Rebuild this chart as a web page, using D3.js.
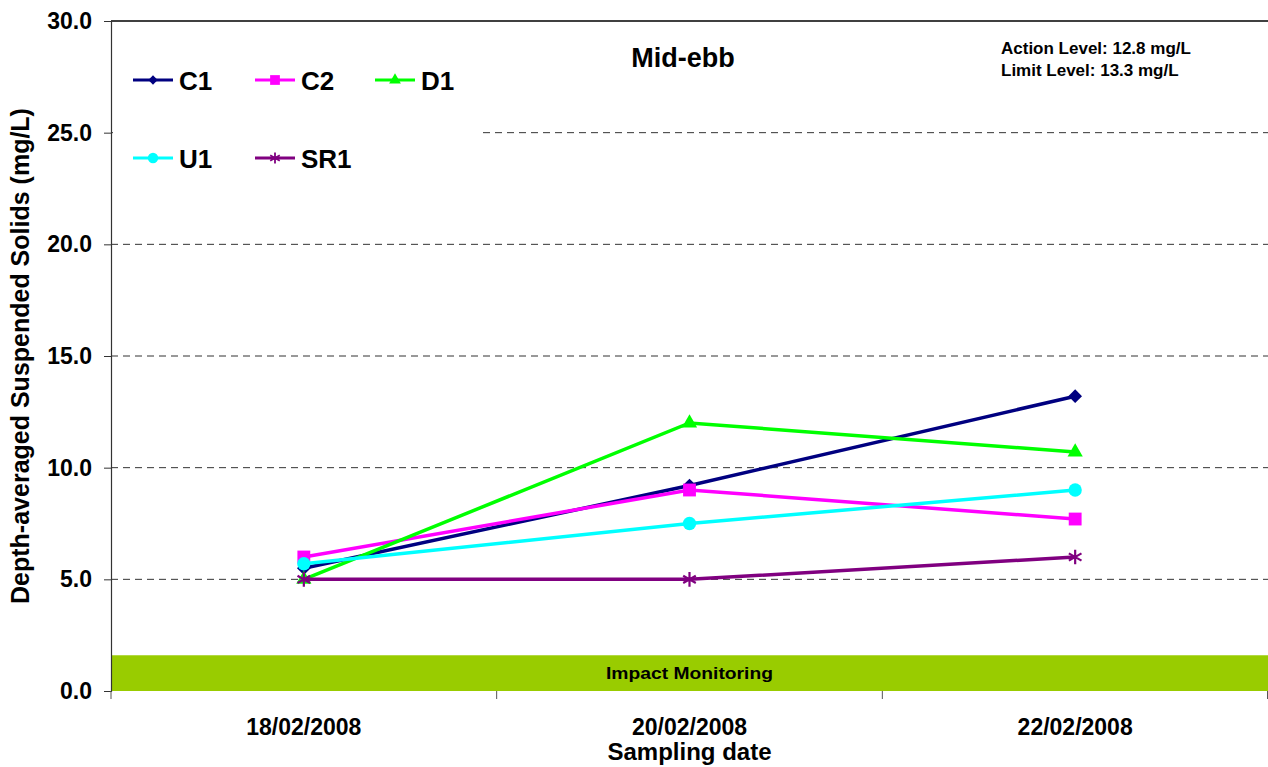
<!DOCTYPE html>
<html>
<head>
<meta charset="utf-8">
<script src="https://cdn.jsdelivr.net/npm/d3@7"></script>
<style>
  body { margin: 0; background: #fff; }
  text { font-family: "Liberation Sans", Arial, sans-serif; font-weight: bold; }
</style>
</head>
<body>
<div id="chart"></div>
<script>
// chart data
const dates = ["18/02/2008", "20/02/2008", "22/02/2008"];
const seriesNames = ["C1", "C2", "D1", "U1", "SR1"];
const c1Values = [5.5, 9.2, 13.2];
const c2Values = [6.0, 9.0, 7.7];
const d1Values = [5.0, 12.0, 10.7];
const u1Values = [5.7, 7.5, 9.0];
const sr1Values = [5.0, 5.0, 6.0];
const yTicks = [0, 5, 10, 15, 20, 25, 30];

const width = 1268, height = 767;
const margin = { top: 21, right: 0, bottom: 76, left: 111 };

const colors = ["#000080", "#ff00ff", "#00ff00", "#00ffff", "#800080"];
const shapes = [d3.symbolDiamond2, d3.symbolSquare, d3.symbolTriangle, d3.symbolCircle, d3.symbolAsterisk];
const shapeSizes = [120, 165, 100, 140, 150];   // in the plot
const legendSizes = [55, 95, 60, 85, 85];       // in the legend

const allValues = [c1Values, c2Values, d1Values, u1Values, sr1Values];
const series = seriesNames.map((name, i) => ({
  name: name,
  color: colors[i],
  shape: shapes[i],
  size: shapeSizes[i],
  legendSize: legendSizes[i],
  values: allValues[i].map((v, j) => ({ date: dates[j], value: v }))
}));

const svg = d3.select("#chart")
  .append("svg")
  .attr("width", width)
  .attr("height", height);

const xScale = d3.scaleBand()
  .domain(dates)
  .range([margin.left, width - margin.right]);

const yScale = d3.scaleLinear()
  .domain([0, 30])
  .range([height - margin.bottom, margin.top]);

// dashed grid lines
svg.append("g")
  .selectAll("line")
  .data(yTicks.filter(t => t > 0 && t < 30))
  .enter()
  .append("line")
    .attr("x1", margin.left)
    .attr("x2", width - margin.right)
    .attr("y1", d => yScale(d))
    .attr("y2", d => yScale(d))
    .attr("stroke", "#333")
    .attr("stroke-width", 1)
    .attr("stroke-dasharray", "7,5");

// top border
svg.append("line")
  .attr("x1", margin.left).attr("x2", width - margin.right)
  .attr("y1", yScale(30)).attr("y2", yScale(30))
  .attr("stroke", "#000").attr("stroke-width", 1.5);

// impact monitoring band
svg.append("rect")
  .attr("x", margin.left)
  .attr("y", yScale(1.6))
  .attr("width", width - margin.right - margin.left)
  .attr("height", yScale(0) - yScale(1.6))
  .attr("fill", "#99cc00");

svg.append("text")
  .attr("x", xScale(dates[1]) + xScale.bandwidth() / 2)
  .attr("y", (yScale(0) + yScale(1.6)) / 2 + 6)
  .attr("text-anchor", "middle")
  .attr("font-size", "17px")
  .attr("textLength", 167)
  .attr("lengthAdjust", "spacingAndGlyphs")
  .text("Impact Monitoring");

// y axis
const yAxis = svg.append("g")
  .attr("transform", `translate(${margin.left},0)`)
  .call(d3.axisLeft(yScale).tickValues(yTicks).tickFormat(d3.format(".1f")).tickSize(7).tickPadding(12));
yAxis.select(".domain").attr("stroke", "#333").attr("stroke-width", 1.2);
yAxis.selectAll(".tick line").attr("stroke", "#333");
yAxis.selectAll("text").attr("font-size", "23px").attr("fill", "#000");

// x axis (ticks at band edges)
const xAxisG = svg.append("g")
  .attr("transform", `translate(0,${yScale(0)})`);
const edges = dates.map(d => xScale(d)).concat([width - margin.right - 0.5]);
xAxisG.selectAll("line")
  .data(edges)
  .enter()
  .append("line")
    .attr("x1", d => d).attr("x2", d => d)
    .attr("y1", 0).attr("y2", 8)
    .attr("stroke", "#555");
xAxisG.selectAll("text")
  .data(dates)
  .enter()
  .append("text")
    .attr("x", d => xScale(d) + xScale.bandwidth() / 2)
    .attr("y", 44)
    .attr("text-anchor", "middle")
    .attr("font-size", "23px")
    .text(d => d);

// axis titles
svg.append("text")
  .attr("x", xScale(dates[1]) + xScale.bandwidth() / 2)
  .attr("y", 760)
  .attr("text-anchor", "middle")
  .attr("font-size", "24px")
  .text("Sampling date");

svg.append("text")
  .attr("transform", `translate(29,${yScale(15)}) rotate(-90)`)
  .attr("text-anchor", "middle")
  .attr("font-size", "25px")
  .text("Depth-averaged Suspended Solids (mg/L)");

// chart title and levels
svg.append("text")
  .attr("x", 683).attr("y", 67)
  .attr("text-anchor", "middle")
  .attr("font-size", "27px")
  .text("Mid-ebb");

svg.append("text")
  .attr("x", 1001).attr("y", 54)
  .attr("font-size", "17px")
  .text("Action Level: 12.8 mg/L");
svg.append("text")
  .attr("x", 1001).attr("y", 76)
  .attr("font-size", "17px")
  .text("Limit Level: 13.3 mg/L");

// lines
const line = d3.line()
  .x(d => xScale(d.date) + xScale.bandwidth() / 2)
  .y(d => yScale(d.value));

series.forEach(s => {
  const g = svg.append("g");
  g.append("path")
    .datum(s.values)
    .attr("d", line)
    .attr("fill", "none")
    .attr("stroke", s.color)
    .attr("stroke-width", 3.5);
  g.selectAll("path.marker")
    .data(s.values)
    .enter()
    .append("path")
      .attr("class", "marker")
      .attr("transform", d => `translate(${xScale(d.date) + xScale.bandwidth() / 2},${yScale(d.value)})`)
      .attr("d", d3.symbol().type(s.shape).size(s.size))
      .attr("fill", s.color)
      .attr("stroke", s.color)
      .attr("stroke-width", s.shape === d3.symbolAsterisk ? 2.2 : 0);
});

// legend
const legendPos = [[133, 80], [255, 80], [375, 80], [133, 158], [255, 158]];
const legend = svg.append("g");
legend.append("rect")
  .attr("x", margin.left + 2).attr("y", 40)
  .attr("width", 370).attr("height", 150)
  .attr("fill", "#fff");
series.forEach((s, i) => {
  const [lx, ly] = legendPos[i];
  const item = legend.append("g").attr("transform", `translate(${lx},${ly})`);
  item.append("line")
    .attr("x1", 0).attr("x2", 40).attr("y1", 0).attr("y2", 0)
    .attr("stroke", s.color).attr("stroke-width", 3);
  item.append("path")
    .attr("transform", "translate(20,0)")
    .attr("d", d3.symbol().type(s.shape).size(s.legendSize))
    .attr("fill", s.color)
    .attr("stroke", s.color)
    .attr("stroke-width", s.shape === d3.symbolAsterisk ? 1.8 : 0);
  item.append("text")
    .attr("x", 46).attr("y", 10)
    .attr("font-size", "26px")
    .text(s.name);
});
</script>
</body>
</html>
